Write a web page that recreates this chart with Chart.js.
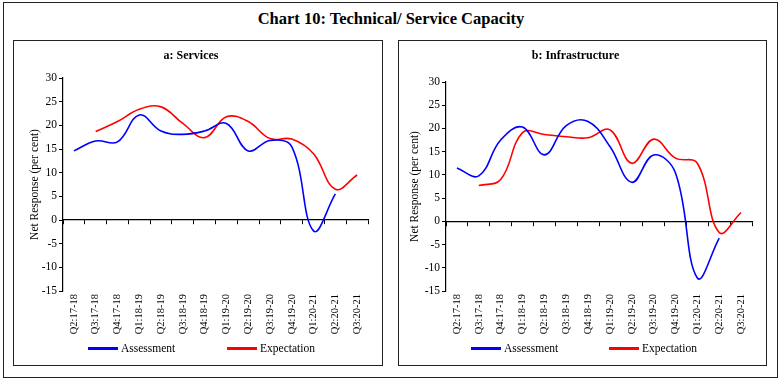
<!DOCTYPE html>
<html><head><meta charset="utf-8">
<script src="https://cdn.jsdelivr.net/npm/chart.js@4.4.0/dist/chart.umd.min.js"></script>
<style>
body{margin:0;background:#fff;font-family:"Liberation Serif",serif;color:#000;}
.box{position:absolute;border:1px solid #222;}
#title{position:absolute;left:0;top:8px;width:782px;text-align:center;font-weight:bold;font-size:16.5px;line-height:22px;}
.panel canvas{position:absolute;left:0;top:0;}
.lg{position:absolute;top:341px;height:14px;font-size:11.5px;line-height:14px;white-space:nowrap;}
.lg span.sw{display:inline-block;width:30px;height:3px;vertical-align:middle;margin-right:3px;position:relative;top:-1px;}
</style>
</head><body>
<div class="box" style="left:3px;top:2px;width:773px;height:374px;"></div>
<div id="title">Chart 10: Technical/ Service Capacity</div>
<div class="box panel" style="left:13px;top:40px;width:368px;height:324px;"><canvas id="ca" width="368" height="324"></canvas></div>
<div class="box panel" style="left:398px;top:40px;width:367px;height:324px;"><canvas id="cb" width="367" height="324"></canvas></div>
<div id="lga"></div>
<div id="lgb"></div>
<script>
const categories = ['Q2:17-18','Q3:17-18','Q4:17-18','Q1:18-19','Q2:18-19','Q3:18-19','Q4:18-19','Q1:19-20','Q2:19-20','Q3:19-20','Q4:19-20','Q1:20-21','Q2:20-21','Q3:20-21'];
const seriesNames = ['Assessment','Expectation'];
const servicesAssessment  = [14.6,16.7,16.5,22.2,18.8,18.1,18.8,20.4,14.6,16.8,15.5,-2.3,5.5,null];
const servicesExpectation = [null,18.7,20.8,23.4,23.9,20.4,17.4,21.8,20.8,17.2,17.1,14.0,6.5,9.5];
const infraAssessment     = [11.5,9.8,17.5,20.3,14.3,20.6,21.5,16.1,8.4,14.3,10.4,-12.2,-3.6,null];
const infraExpectation    = [null,7.7,9.0,19.1,18.7,18.2,18.0,19.7,12.5,17.7,13.6,12.5,-2.4,1.9];
const yTicks = {min:-15, max:30, step:5};
const panelTitles = ['a: Services','b: Infrastructure'];
const yTitle = 'Net Response (per cent)';

const FONT = 'Liberation Serif';
function makePanel(id, title, assess, expect, cfg){
  return new Chart(document.getElementById(id), {
    type:'line',
    data:{labels:categories, datasets:[
      {label:seriesNames[0], data:assess, borderColor:'#0000FF', backgroundColor:'#0000FF', borderWidth:1.6, pointRadius:0, tension:0.4, xAxisID:'x'},
      {label:seriesNames[1], data:expect, borderColor:'#FF0000', backgroundColor:'#FF0000', borderWidth:1.6, pointRadius:0, tension:0.4, xAxisID:'x'}
    ]},
    options:{
      responsive:false, animation:false, events:[],
      layout:{padding:{left:0,right:cfg.padRight,top:0,bottom:0}},
      plugins:{
        legend:{display:false}, tooltip:{enabled:false},
        title:{display:true, text:title, color:'#000', font:{family:FONT,size:12,weight:'bold'}, padding:{top:7.8,bottom:cfg.titleBottom}}
      },
      scales:{
        x:{type:'category', position:'bottom', offset:true,
           grid:{display:false, drawTicks:false}, border:{display:false},
           ticks:{autoSkip:false, minRotation:90, maxRotation:90, padding:3, color:'#000', font:{family:FONT,size:10.5}},
           afterFit:s=>{s.height = 74;}},
        x2:{type:'category', position:{y:0}, offset:true,
           grid:{display:true, drawOnChartArea:false, drawTicks:true, tickLength:4, offset:true, color:'#000', lineWidth:1},
           border:{display:true, color:'#000', width:1.2},
           ticks:{display:false}},
        y:{type:'linear', position:'left', min:yTicks.min, max:yTicks.max,
           ticks:{stepSize:yTicks.step, padding:2, color:'#000', font:{family:FONT,size:11.5}},
           grid:{display:true, drawOnChartArea:false, drawTicks:true, tickLength:4, color:'#000'},
           border:{display:true, color:'#000', width:1.2},
           title:{display:true, text:yTitle, color:'#000', font:{family:FONT,size:11.5}, padding:{top:cfg.yTitlePad,bottom:0}},
           afterFit:s=>{s.width = cfg.yWidth;}}
      }
    }
  });
}
function htmlLegend(chart, elId, lefts){
  const el = document.getElementById(elId);
  const items = chart.data.datasets.map(d=>({text:d.label, color:d.borderColor}));
  items.forEach((it,i)=>{
    const div = document.createElement('div');
    div.className='lg'; div.style.left = lefts[i]+'px';
    const sw = document.createElement('span'); sw.className='sw'; sw.style.background = it.color;
    div.appendChild(sw); div.appendChild(document.createTextNode(it.text));
    el.appendChild(div);
  });
}
const ca = makePanel('ca', panelTitles[0], servicesAssessment, servicesExpectation, {yWidth:49, padRight:14, titleBottom:14.8, yTitlePad:14.1});
const cb = makePanel('cb', panelTitles[1], infraAssessment, infraExpectation, {yWidth:47, padRight:14, titleBottom:18.8, yTitlePad:9.1});
htmlLegend(ca, 'lga', [88,227]);
htmlLegend(cb, 'lgb', [471,609]);
</script>
</body></html>
